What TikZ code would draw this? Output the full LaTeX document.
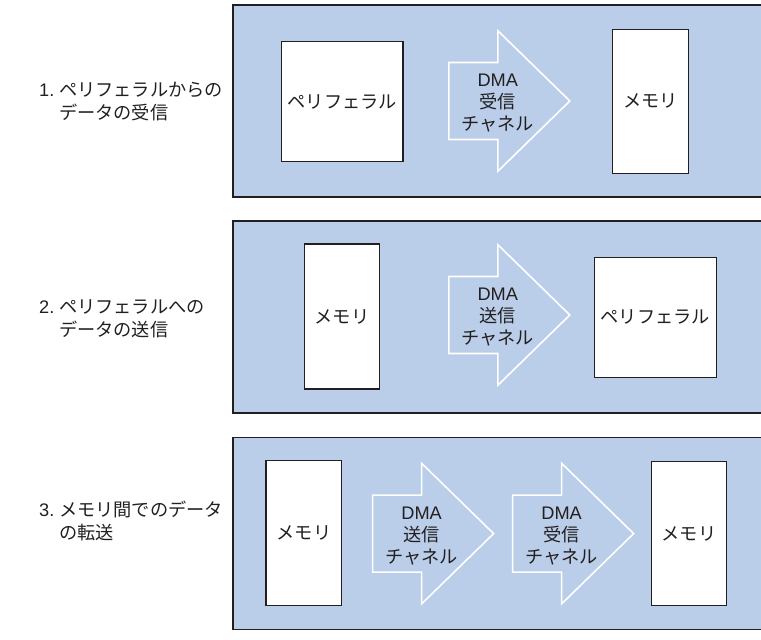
\documentclass[tikz,border=0pt]{standalone}
\usepackage{fontspec}
\setmainfont{Noto Sans CJK JP}
\newfontfamily\lat{Liberation Sans}
\definecolor{panelblue}{RGB}{186,206,233}
\definecolor{ink}{RGB}{35,31,32}
\tikzset{
  panel/.style={draw=ink, fill=panelblue, line width=1.3pt},
  box/.style={draw=ink, fill=white, line width=1.1pt, inner sep=0pt, font=\fontsize{18.2}{22}\selectfont, text=ink},
  arrowline/.style={draw=white, fill=panelblue, line width=1.6pt, line join=miter},
  arrowtext/.style={align=center, inner sep=0pt, font=\fontsize{18.2}{22}\selectfont, text=ink},
  lbl/.style={align=left, anchor=west, inner sep=0pt, font=\fontsize{18.2}{23}\selectfont, text=ink}
}
\newcommand{\dmaarrow}[4]{%
  \draw[arrowline] ({#2},{#3-38.5}) -- ({#2+49},{#3-38.5}) -- ({#2+49},{#3-70.3})
    -- ({#2+121},{#3}) -- ({#2+49},{#3+70.3}) -- ({#2+49},{#3+38.5}) -- ({#2},{#3+38.5}) -- cycle;
  \node[arrowtext] (#1) at ({#2+49},{#3+2}) {{\lat DMA}\\#4\\チャネル};}
\begin{document}
\begin{tikzpicture}[x=1pt,y=-1pt]
\useasboundingbox (0,0) rectangle (761,640);
% panels
\draw[panel] (233,5) rectangle (766,197);
\draw[panel] (233,221) rectangle (766,413);
\draw[panel] (233,437.3) rectangle (766,629.5);
% labels
\node[lbl] (l1) at (39,101.5) {\makebox[20pt][l]{\lat 1.}ペリフェラルからの\\\hspace*{20pt}データの受信};
\node[lbl] (l2) at (39,319) {\makebox[20pt][l]{\lat 2.}ペリフェラルへの\\\hspace*{20pt}データの送信};
\node[lbl] (l3) at (39,521) {\makebox[20pt][l]{\lat 3.}メモリ間でのデータ\\\hspace*{20pt}の転送};
% panel 1
\node[box, minimum width=121.5pt, minimum height=120.4pt] (per1) at (342.2,101.5) {ペリフェラル};
\dmaarrow{dma1}{448.8}{101}{受信}
\node[box, minimum width=75.5pt, minimum height=144pt] (mem1) at (650.4,101.3) {メモリ};
% panel 2
\node[box, minimum width=75.6pt, minimum height=145pt] (mem2) at (342,316.5) {メモリ};
\dmaarrow{dma2}{448.8}{315}{送信}
\node[box, minimum width=121.8pt, minimum height=120pt] (per2) at (655.3,317.3) {ペリフェラル};
% panel 3
\node[box, minimum width=75.9pt, minimum height=144.3pt] (mem3a) at (303.9,532.9) {メモリ};
\dmaarrow{dma3a}{372.6}{533.6}{送信}
\dmaarrow{dma3b}{512.6}{533.6}{受信}
\node[box, minimum width=75.3pt, minimum height=144pt] (mem3b) at (689,533.7) {メモリ};
\end{tikzpicture}
\end{document}
